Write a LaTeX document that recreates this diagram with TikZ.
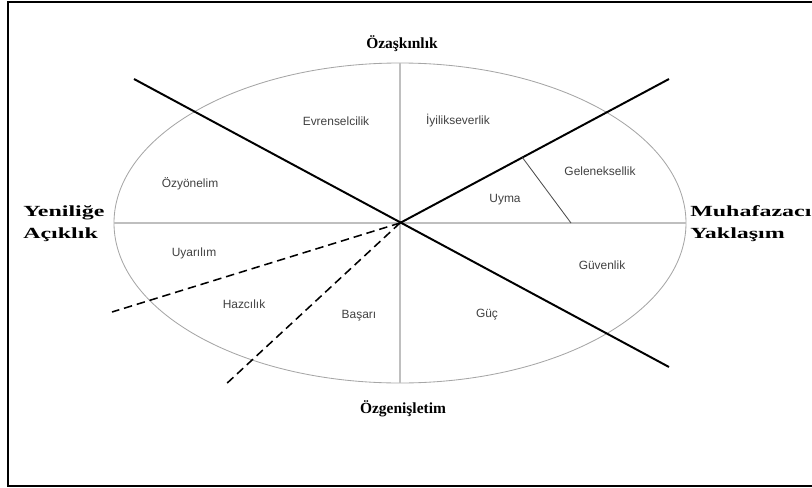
\documentclass[tikz,border=0pt]{standalone}
\usepackage{fontspec}
\setmainfont{Liberation Serif}
\setsansfont{Liberation Sans}
\usepackage{graphicx}
\usetikzlibrary{calc,positioning}

\begin{document}
\begin{tikzpicture}[ax/.style={gray!50,line width=1pt},
                    sep/.style={black,line width=1.4pt},
                    dsep/.style={black,line width=1.1pt,dash pattern=on 6pt off 3.5pt},
                    val/.style={font=\sffamily\fontsize{8.5}{10}\selectfont,text=black!75},
                    pol/.style={font=\bfseries\fontsize{11}{15.5}\selectfont,align=left,inner sep=0pt}]
                      \clip (-10,-6.6) rectangle (10.3,5.575);
                      \draw[line width=1.8pt] (10.6,-6.575) -- (-9.8,-6.575) -- (-9.8,5.525) -- (10.6,5.525);

                      \coordinate (o) at (0,0);
                      \coordinate (n) at (0,4);
                      \coordinate (s) at (0,-4);
                      \coordinate (w) at (-7.15,0);
                      \coordinate (e) at (7.15,0);
                      \coordinate (nw) at (-6.65,3.6);
                      \coordinate (ne) at (6.725,3.6);
                      \coordinate (se) at (6.725,-3.6);
                      \coordinate (d1) at (-7.2,-2.225);
                      \coordinate (d2) at (-4.4,-4.075);
                      \coordinate (g1) at ($(o)!0.455!(ne)$);
                      \coordinate (g2) at (4.275,0);

                      \draw[gray!70,line width=0.6pt] (o) ellipse (7.15 and 4);
                      \draw[ax] (n) -- (s);
                      \draw[ax] (w) -- (e);
                      \draw[sep] (nw) -- (se);
                      \draw[sep] (o) -- (ne);
                      \draw[dsep] (o) -- (d1);
                      \draw[dsep] (o) -- (d2);
                      \draw[black!70,line width=0.6pt] (g1) -- (g2);

                      \node[val] (evr) at (-1.6,2.55) {Evrenselcilik};
                      \node[val] (iyi) at (1.45,2.55) {İyilikseverlik};
                      \node[val] (ozy) at (-5.25,0.975) {Özyönelim};
                      \node[val] (gel) at (5.0,1.3) {Geleneksellik};
                      \node[val] (uym) at (2.625,0.575) {Uyma};
                      \node[val] (uya) at (-5.15,-0.75) {Uyarılım};
                      \node[val] (guv) at (5.05,-1.05) {Güvenlik};
                      \node[val] (haz) at (-3.9,-2.025) {Hazcılık};
                      \node[val] (bas) at (-1.025,-2.325) {Başarı};
                      \node[val] (guc) at (2.175,-2.3) {Güç};

                      \node[pol] (top) at (0.05,4.475) {Özaşkınlık};
                      \node[pol] (bot) at (0.075,-4.65) {Özgenişletim};
                      \node[pol,anchor=west] (lft) at (-9.425,-0.025) {\scalebox{1.55}[1]{Yeniliğe}\\\scalebox{1.55}[1]{Açıklık}};
                      \node[pol,anchor=west] (rgt) at (7.25,-0.025) {\scalebox{1.55}[1]{Muhafazacı}\\\scalebox{1.55}[1]{Yaklaşım}};
                    \end{tikzpicture}
\end{document}
